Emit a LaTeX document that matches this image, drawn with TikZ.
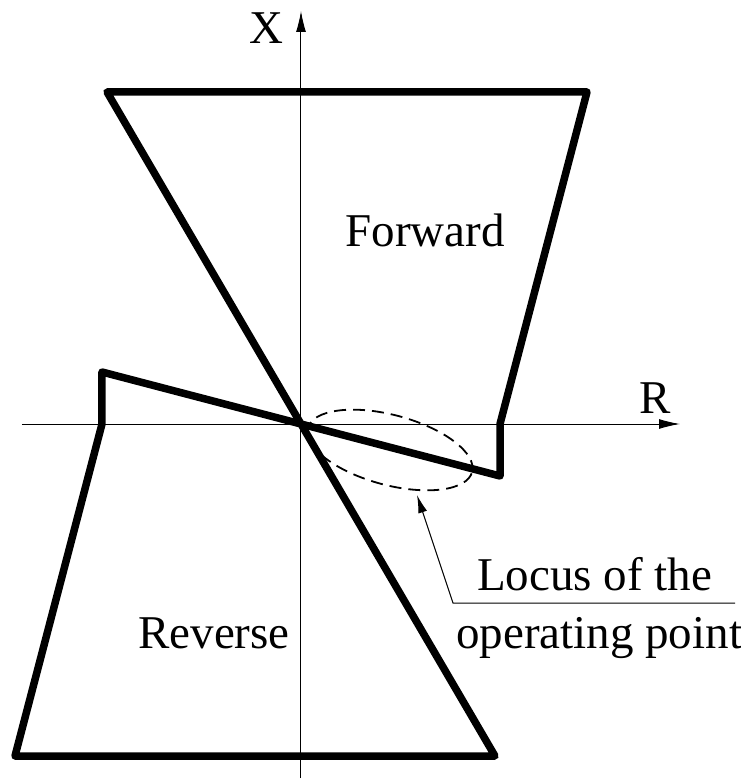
\documentclass[tikz,border=0pt]{standalone}
\usepackage{fontspec}
\setmainfont{Liberation Serif}
\usepackage{tikz}
\usetikzlibrary{arrows.meta, positioning, calc, shapes.geometric}
\tikzstyle{axis} = [line width=1pt, -{Latex[length=21pt,width=10pt]}]
\tikzstyle{region} = [line width=7.5pt, line join=round]
\tikzstyle{locus} = [line width=1.8pt, dash pattern=on 12pt off 7pt]
\tikzstyle{pointer} = [line width=1pt, {Latex[length=18pt,width=9pt]}-]
\tikzstyle{txt} = [font=\fontsize{47}{52}\selectfont, inner sep=0pt]

\begin{document}
\begin{tikzpicture}[x=1pt, y=1pt]
    \useasboundingbox (-301,-358) rectangle (440,424);
    % Axes
    \coordinate (O) at (0,0);
    \coordinate (xbot) at (0,-354);
    \coordinate (xtop) at (0,413);
    \coordinate (rleft) at (-279,0);
    \coordinate (rright) at (379,0);
    \draw [axis] (xbot) -- (xtop);
    \draw [axis] (rleft) -- (rright);
    \node (xlab) [txt] at (-35,396) {X};
    \node (rlab) [txt] at (354,26) {R};

    % Forward region
    \coordinate (fa) at (-194,332);
    \coordinate (fb) at (286,332);
    \coordinate (fc) at (199,0);
    \coordinate (fd) at (199,-52);
    \draw [region] (fa) -- (fb) -- (fc) -- (fd) -- (O) -- cycle;
    \node (fwd) [txt] at (124,194) {Forward};

    % Reverse region
    \coordinate (ra) at (194,-332);
    \coordinate (rb) at (-286,-332);
    \coordinate (rc) at (-199,0);
    \coordinate (rd) at (-199,52);
    \draw [region] (ra) -- (rb) -- (rc) -- (rd) -- (O) -- cycle;
    \node (rev) [txt] at (-87,-209) {Reverse};

    % Locus of the operating point
    \node (ell) [locus, draw, ellipse, minimum width=170pt, minimum height=70pt, rotate=-15, inner sep=0pt] at (89,-26) {};
    \coordinate (bend) at (152,-179);
    \coordinate (lend) at (434,-179);
    \draw [pointer] (116,-71) -- (bend) -- (lend);
    \node (loc1) [txt, above=13pt of bend, anchor=base west, xshift=24pt] {Locus of the};
    \node (loc2) [txt, below=45pt of bend, anchor=base west, xshift=3pt] {operating point};
\end{tikzpicture}
\end{document}
